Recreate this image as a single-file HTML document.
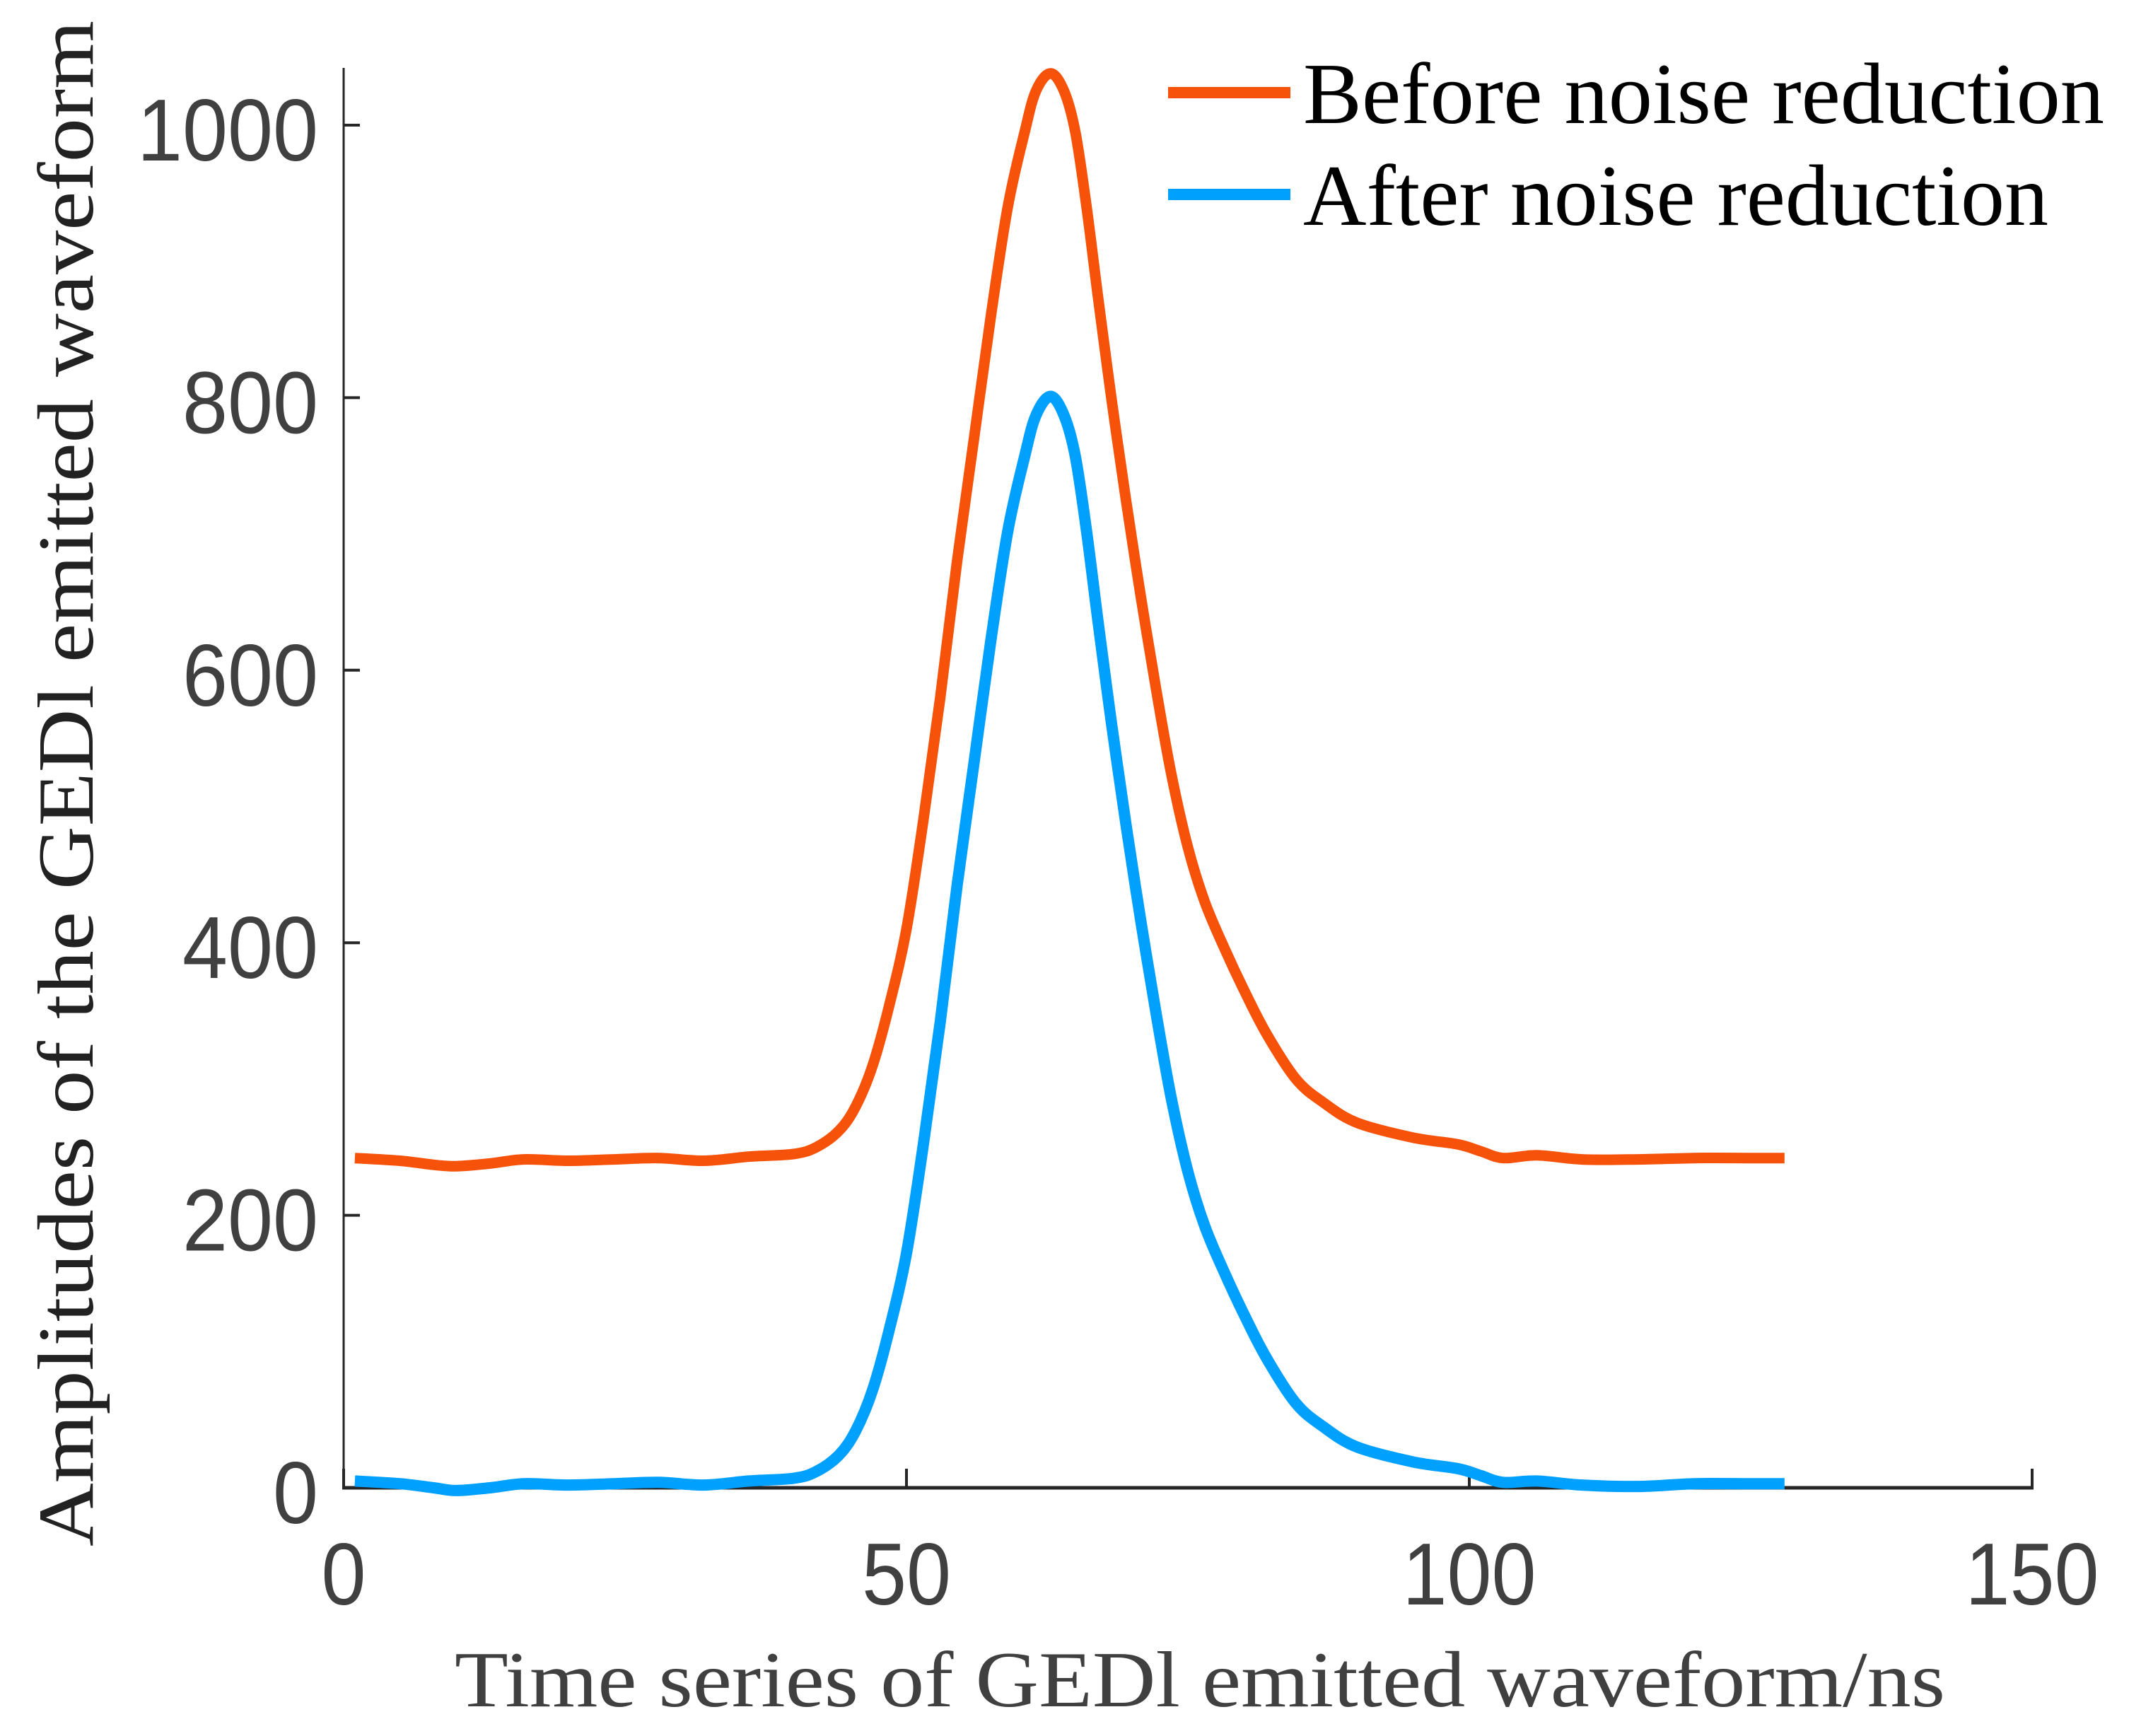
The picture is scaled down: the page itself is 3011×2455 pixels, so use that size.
<!DOCTYPE html>
<html><head><meta charset="utf-8"><style>
html,body{margin:0;padding:0;background:#fff;}
svg{display:block;}
</style></head><body>
<svg id="chart" xmlns="http://www.w3.org/2000/svg" width="3011" height="2455" viewBox="0 0 3011 2455">
<rect width="3011" height="2455" fill="#fff"/>
<g id="axes"></g>
<g id="series"></g>
<g id="legend"></g>
</svg>
<script>
const timeBefore = [1,5,8,10,13,16,20,24,28,32,36,40,42,44,45.5,47,48.5,50,51.5,53,54.5,56,57.5,59,60.5,61.5,62.8,64,65,66,67,68.2,69.5,70.8,72.2,73.5,75,76.5,78.3,80,82,84.6,87,90,95,99,101,103,106,110,115,120,125,128];
const ampBefore = [242,240,237,236,238,241,240,241,242,240,243,245,250,262,280,310,355,410,490,580,680,770,860,940,995,1025,1038,1025,995,940,875,800,725,655,585,525,470,430,395,365,333,300,283,268,257,252,247,242,244,241,241,242,242,242];
const timeAfter = [1,5,8,10,13,16,20,24,28,32,36,40,42,44,45.5,47,48.5,50,51.5,53,54.5,56,57.5,59,60.5,61.5,62.8,64,65,66,67,68.2,69.5,70.8,72.2,73.5,75,76.5,78.3,80,82,84.6,87,90,95,99,101,103,106,110,115,120,125,128];
const ampAfter = [5,3,0,-2,0,3,2,3,4,2,5,7,12,24,42,72,117,172,252,342,442,532,622,702,757,787,801,787,757,702,637,562,487,417,347,287,232,192,157,127,95,62,45,30,19,14,9,4,5,2,1,3,3,3];
const xTicks = [0,50,100,150];
const yTicks = [0,200,400,600,800,1000];
const yTickLabels = ["0","200","400","600","800","1000"];
const xTickLabels = ["0","50","100","150"];

const NS = "http://www.w3.org/2000/svg";
const X0 = 486, X1 = 2874, Y0 = 2104, Y1000 = 177;
function xs(v){ return X0 + v*(X1-X0)/150; }
function ys(v){ return Y0 - v*(Y0-Y1000)/1000; }
function mk(tag, attrs, parent){
  const e = document.createElementNS(NS, tag);
  for (const k in attrs) e.setAttribute(k, attrs[k]);
  parent.appendChild(e);
  return e;
}
const axes = document.getElementById('axes');
const series = document.getElementById('series');
const legend = document.getElementById('legend');

const yAxis = mk('line', {x1:X0, y1:96, x2:X0, y2:Y0, stroke:'#262626', 'stroke-width':3}, axes);


const xAxis = mk('line', {x1:X0-2, y1:Y0, x2:X1+2, y2:Y0, stroke:'#262626', 'stroke-width':5}, axes);



xTicks.forEach((t,i)=>{
  const tk = mk('line', {x1:xs(t), y1:Y0, x2:xs(t), y2:Y0-27, stroke:'#262626', 'stroke-width':4}, axes);
  
  
  const lab = xTickLabels[i];
  const tx = mk('text', {x:xs(t), y:2269, 'text-anchor':'middle', 'font-family':'Liberation Sans, sans-serif', 'font-size':124, fill:'#404040', textLength:lab.length*63, lengthAdjust:'spacingAndGlyphs'}, axes);
  tx.textContent = lab;
  
  
});
yTicks.forEach((t,i)=>{
  const tk = mk('line', {x1:X0, y1:ys(t), x2:X0+23, y2:ys(t), stroke:'#262626', 'stroke-width':4}, axes);
  
  
  const lab = yTickLabels[i];
  const tx = mk('text', {x:450, y:ys(t)+50, 'text-anchor':'end', 'font-family':'Liberation Sans, sans-serif', 'font-size':124, fill:'#404040', textLength:lab.length*64, lengthAdjust:'spacingAndGlyphs'}, axes);
  tx.textContent = lab;
  
  
});
const xt = mk('text', {x:643, y:2413, 'font-family':'Liberation Serif, serif', 'font-size':112, fill:'#404040', textLength:2108, lengthAdjust:'spacingAndGlyphs'}, axes);
xt.textContent = 'Time series of GEDl emitted waveform/ns';


const yt = mk('text', {x:0, y:0, 'text-anchor':'middle', 'font-family':'Liberation Serif, serif', 'font-size':112, fill:'#222', textLength:2158, lengthAdjust:'spacingAndGlyphs', transform:'translate(131,1108) rotate(-90)'}, axes);
yt.textContent = 'Amplitudes of the GEDl emitted waveform';



function smoothPath(tx, ty){
  const p = tx.map((t,i)=>[xs(t), ys(ty[i])]);
  let d = 'M' + p[0][0].toFixed(1) + ',' + p[0][1].toFixed(1);
  for (let i=0;i<p.length-1;i++){
    const p0 = p[Math.max(0,i-1)], p1 = p[i], p2 = p[i+1], p3 = p[Math.min(p.length-1,i+2)];
    const c1x = p1[0] + (p2[0]-p0[0])/6, c1y = p1[1] + (p2[1]-p0[1])/6;
    const c2x = p2[0] - (p3[0]-p1[0])/6, c2y = p2[1] - (p3[1]-p1[1])/6;
    d += ' C' + c1x.toFixed(1)+','+c1y.toFixed(1)+' '+c2x.toFixed(1)+','+c2y.toFixed(1)+' '+p2[0].toFixed(1)+','+p2[1].toFixed(1);
  }
  return d;
}
const lineB = mk('path', {d:smoothPath(timeBefore, ampBefore), fill:'none', stroke:'#F7520A', 'stroke-width':15, 'stroke-linejoin':'round'}, series);


const lineA = mk('path', {d:smoothPath(timeAfter, ampAfter), fill:'none', stroke:'#00A0FF', 'stroke-width':16, 'stroke-linejoin':'round'}, series);



const l1 = mk('line', {x1:1652, y1:131, x2:1825, y2:131, stroke:'#F7520A', 'stroke-width':16}, legend);


const t1 = mk('text', {x:1843, y:174, 'font-family':'Liberation Serif, serif', 'font-size':123, fill:'#000', textLength:1133, lengthAdjust:'spacingAndGlyphs'}, legend);
t1.textContent = 'Before noise reduction';


const l2 = mk('line', {x1:1652, y1:275, x2:1825, y2:275, stroke:'#00A0FF', 'stroke-width':16}, legend);


const t2 = mk('text', {x:1843, y:318, 'font-family':'Liberation Serif, serif', 'font-size':123, fill:'#000', textLength:1054, lengthAdjust:'spacingAndGlyphs'}, legend);
t2.textContent = 'After noise reduction';


</script>
</body></html>
